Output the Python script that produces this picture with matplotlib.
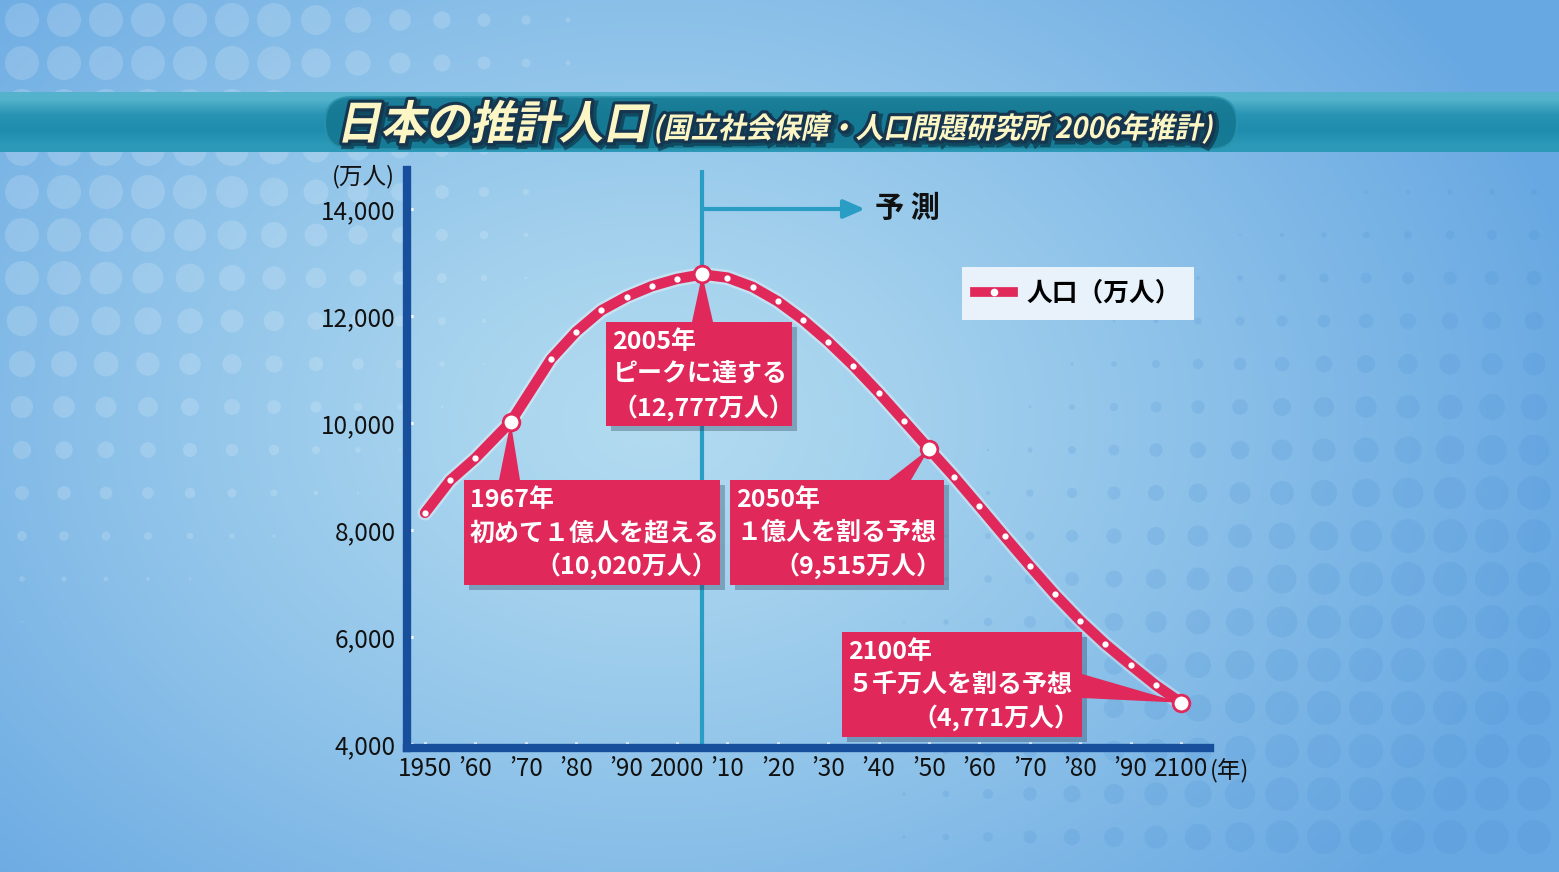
import numpy as np
import matplotlib
matplotlib.use('Agg')
import matplotlib.pyplot as plt
import matplotlib.transforms as mtransforms
import matplotlib.patheffects as pe
from matplotlib.patches import Rectangle, Polygon, PathPatch, FancyBboxPatch
from matplotlib.textpath import TextPath
from matplotlib.font_manager import FontProperties
from matplotlib.lines import Line2D

plt.rcParams['font.family'] = ['Noto Sans CJK JP', 'DejaVu Sans']

# 人口 (万人), 国立社会保障・人口問題研究所 2006年推計
years = [1950, 1955, 1960, 1967, 1975, 1980, 1985, 1990, 1995, 2000, 2005,
         2010, 2015, 2020, 2025, 2030, 2035, 2040, 2045, 2050,
         2055, 2060, 2065, 2070, 2075, 2080, 2085, 2090, 2095, 2100]
population = [8320, 8928, 9342, 10020, 11194, 11706, 12105, 12361, 12557, 12693, 12777,
              12718, 12543, 12274, 11927, 11522, 11068, 10570, 10044, 9515,
              8993, 8440, 7880, 7330, 6795, 6305, 5866, 5476, 5098, 4771]
highlight_years = [1967, 2005, 2050, 2100]
peak_year = 2005

y_ticks = [4000, 6000, 8000, 10000, 12000, 14000]
y_labels = ['4,000', '6,000', '8,000', '10,000', '12,000', '14,000']
x_ticks = list(range(1950, 2101, 10))
x_labels = ['1950', '’60', '’70', '’80', '’90', '2000', '’10', '’20', '’30',
            '’40', '’50', '’60', '’70', '’80', '’90', '2100']

title = '日本の推計人口'
subtitle = '(国立社会保障・人口問題研究所 2006年推計)'
legend_label = '人口（万人）'
notes = {
    1967: ['1967年', '初めて１億人を超える', '（10,020万人）'],
    2005: ['2005年', 'ピークに達する', '（12,777万人）'],
    2050: ['2050年', '１億人を割る予想', '（9,515万人）'],
    2100: ['2100年', '５千万人を割る予想', '（4,771万人）'],
}

RED = '#e0285a'
NAVY = '#174f9c'
TEAL = '#2a9dc4'
W, H = 1559, 872

fig = plt.figure(figsize=(W / 100, H / 100), dpi=100)
px = mtransforms.Affine2D().scale(1, -1).translate(0, H)   # pixels from top-left

# ---- background
bg = fig.add_axes([0, 0, 1, 1], zorder=0)
bg.set_xlim(0, W)
bg.set_ylim(H, 0)
bg.axis('off')
yy, xx = np.mgrid[0:H:4, 0:W:4]
d = np.clip(np.hypot((xx - 650) / 950, (yy - 420) / 700), 0, 1)
c0 = np.array([178, 219, 240]) / 255
c1 = np.array([104, 168, 226]) / 255
bg.imshow(c0 + (c1 - c0) * d[..., None] ** 1.2, extent=(0, W, H, 0),
          aspect='auto', interpolation='bilinear', zorder=0)

gx, gy = np.meshgrid(np.arange(22, W, 42), np.arange(20, H, 43))
wl = np.clip(1 - np.hypot(gx / 620, gy / 640), 0, 1)
dl = 34 * np.clip(wl * 1.8, 0, 1)
bg.scatter(gx.ravel(), gy.ravel(), s=(dl.ravel() * 0.72) ** 2, color='white',
           alpha=0.16, lw=0, zorder=1)
wr = np.clip(1 - np.hypot((gx - 1620) / 760, (gy - 760) / 640), 0, 1)
dr = 34 * np.clip(wr * 1.8, 0, 1)
bg.scatter(gx.ravel(), gy.ravel(), s=(dr.ravel() * 0.72) ** 2, color='#4a8fd4',
           alpha=0.18, lw=0, zorder=1)

# title band
band = np.array([[0.33, 0.70, 0.80], [0.16, 0.58, 0.70], [0.12, 0.55, 0.68],
                 [0.17, 0.60, 0.72]])
bg.imshow(band[:, None, :], extent=(0, W, 152, 92), aspect='auto',
          interpolation='bilinear', zorder=2)
bg.add_patch(FancyBboxPatch((325, 97), 912, 52, boxstyle='round,pad=0,rounding_size=26',
                            fc='#137690', ec='#2a93ad', lw=1.5, alpha=0.85, zorder=3))


def slanted_text(s, x, y, size, width):
    fp = FontProperties(family='Noto Sans CJK JP', weight='bold')
    tp = TextPath((0, 0), s, size=size, prop=fp)
    ext = tp.get_extents()
    tr = (mtransforms.Affine2D().translate(-ext.x0, 0).scale(width / ext.width, 1)
          .skew_deg(12, 0).scale(1, -1).translate(x, y))
    path = tr.transform_path(tp)
    shadow = mtransforms.Affine2D().translate(3, 3) + bg.transData
    bg.add_patch(PathPatch(path, fc='#0d2a3e', ec='#0d2a3e', lw=5, alpha=0.6,
                           transform=shadow, zorder=4))
    bg.add_patch(PathPatch(path, fc='none', ec='#163650', lw=4.5, joinstyle='round',
                           zorder=5))
    bg.add_patch(PathPatch(path, fc='#fcf5c4', ec='none', zorder=6))


slanted_text(title, 343, 139, 46, 300)
slanted_text(subtitle, 655, 138, 29, 555)

# ---- chart
ax = fig.add_axes([407 / W, 1 - 748 / H, (1210 - 407) / W, (748 - 170) / H], zorder=1)
ax.patch.set_visible(False)
ax.set_xlim(1946.43, 2105.75)
ax.set_ylim(3925, 14729)
for side in ['top', 'right']:
    ax.spines[side].set_visible(False)
for side in ['left', 'bottom']:
    ax.spines[side].set_color(NAVY)
    ax.spines[side].set_linewidth(6)
    ax.spines[side].set_capstyle('projecting')
ax.set_xticks(x_ticks, x_labels)
ax.set_yticks(y_ticks, y_labels)
ax.tick_params(direction='in', color='white', length=4, width=2.2,
               labelsize=17.5, labelcolor='#111111')
ax.tick_params(axis='x', pad=6)
ax.tick_params(axis='y', pad=8)
ax.text(395, 177, '(万人)', transform=px, ha='right', va='center', fontsize=17,
        color='#111111')
ax.text(1210, 771, '(年)', transform=px, ha='left', va='center', fontsize=17,
        color='#111111')

ax.axvline(peak_year, color=TEAL, lw=3, zorder=1)
ax.annotate('', xy=(2037.3, y_ticks[-1]), xytext=(peak_year, y_ticks[-1]),
            arrowprops=dict(arrowstyle='-|>,head_length=0.8,head_width=0.35',
                            color=TEAL, lw=3, shrinkA=0, shrinkB=0, mutation_scale=16))
ax.text(875, 208, '予 測', transform=px, ha='left', va='center', fontsize=21,
        weight='bold', color='#111111')

ax.plot(years, population, color=RED, lw=7.5, solid_joinstyle='round',
        solid_capstyle='round', zorder=3,
        path_effects=[pe.Stroke(linewidth=11, foreground='white', alpha=0.35), pe.Normal()])
small = [(y, p) for y, p in zip(years, population) if y not in highlight_years]
ax.plot([s[0] for s in small], [s[1] for s in small], 'o', ms=4.5, color='white',
        mew=0, zorder=4)
big_pop = [population[years.index(y)] for y in highlight_years]
ax.plot(highlight_years, big_pop, 'o', ms=12, mfc='white', mec=RED, mew=2, zorder=7)

# callout boxes: (left, top, right, bottom), pointer base, text alignment per line
boxes = {
    2005: ((606, 322, 792, 426), [(692, 322), (713, 322)], 'left', 'left', 'left'),
    1967: ((464, 480, 720, 585), [(499, 480), (520, 480)], 'left', 'left', 'right'),
    2050: ((730, 480, 944, 585), [(889, 480), (911, 480)], 'left', 'left', 'right'),
    2100: ((842, 632, 1082, 737), [(1082, 674), (1082, 698)], 'left', 'left', 'right'),
}
for yr, (rect, base, *aligns) in boxes.items():
    l, t, r, b = rect
    ax.add_patch(Rectangle((l + 5, t + 5), r - l, b - t, transform=px, fc='#1c2f4a',
                           alpha=0.3, lw=0, clip_on=False, zorder=5))
    ax.add_patch(Rectangle((l, t), r - l, b - t, transform=px, fc=RED, lw=0,
                           clip_on=False, zorder=5.5))
    dx, dy = ax.transData.transform((yr, population[years.index(yr)]))
    ax.add_patch(Polygon(base + [(dx, H - dy)], closed=True, transform=px, fc=RED,
                         lw=0, clip_on=False, zorder=5.5))
    for i, (line, al) in enumerate(zip(notes[yr], aligns)):
        xt = l + 6 if al == 'left' else r - 3
        ax.text(xt, t + 20 + 33 * i, line, transform=px, ha=al, va='center',
                fontsize=18, weight='bold', color='white', zorder=6)

handle = Line2D([], [], color=RED, lw=7, marker='o', ms=4.5, mfc='white', mec='white')
ax.legend([handle], [legend_label], loc='upper left', bbox_to_anchor=(962, H - 267),
          bbox_transform=mtransforms.IdentityTransform(), frameon=True, fancybox=False,
          facecolor='#eef5fc', edgecolor='none', framealpha=0.95,
          prop=FontProperties(family='Noto Sans CJK JP', weight='bold', size=18.5),
          handlelength=1.5, handletextpad=0.5, borderpad=0.5, borderaxespad=0)

fig.savefig('out.png', dpi=100)
